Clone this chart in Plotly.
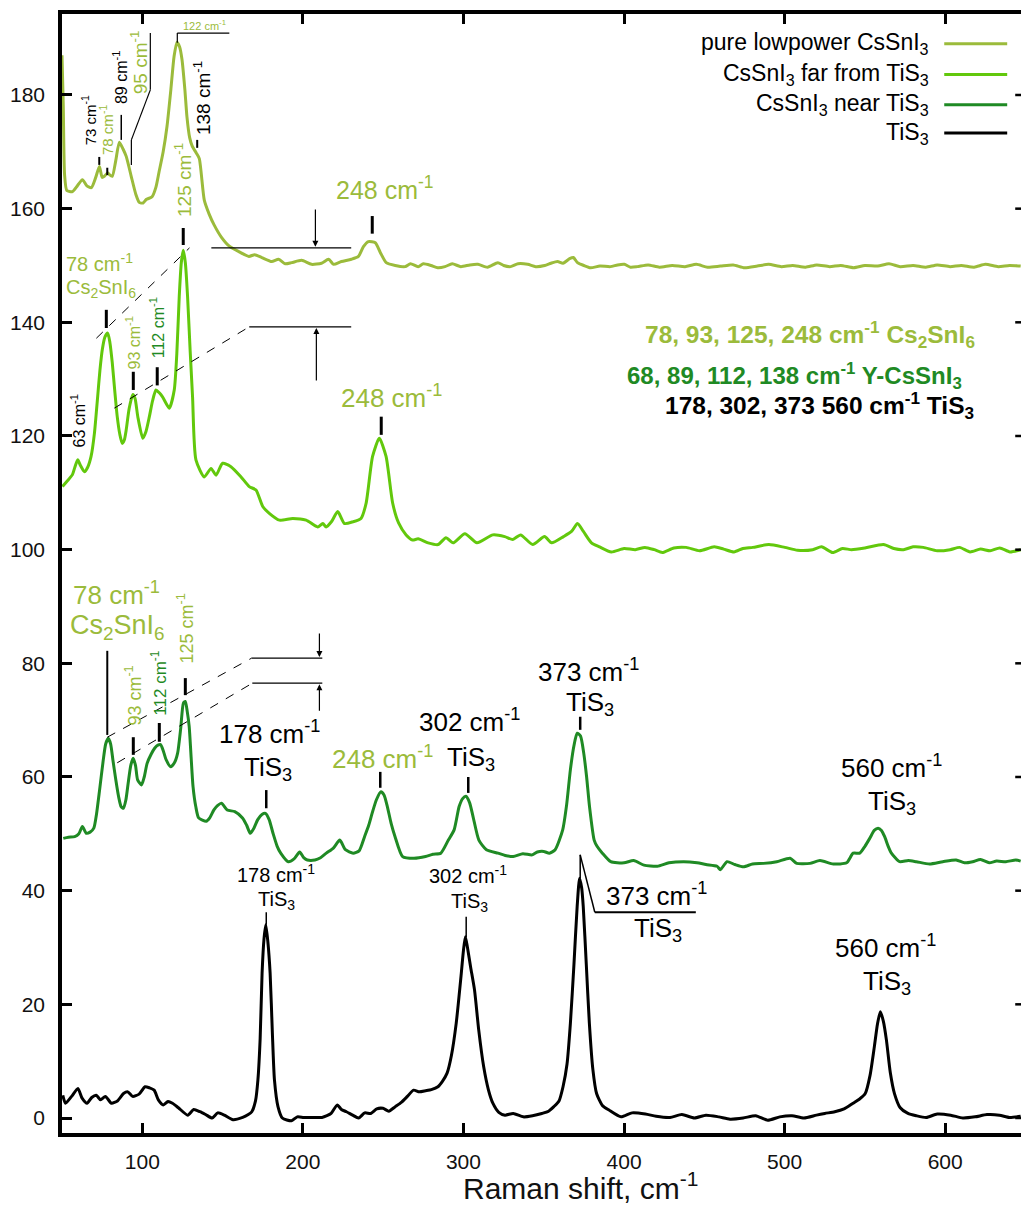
import plotly.graph_objects as go

# ---------------- data ----------------
pure_x = [50.0, 50.8, 51.6, 53.0, 56.5, 59.5, 62.7, 65.5, 68.3, 71.0, 73.3, 75.0, 76.4, 78.5, 79.5, 81.3,
          83.5, 85.7, 88.0, 90.0, 93.1, 96.0, 98.1, 100.5, 102.4, 106.1, 108.5, 110.4, 113.0, 115.4, 117.8,
          119.8, 121.6, 123.2, 124.7, 126.5, 127.8, 129.5, 131.1, 133.6, 135.5, 138.6, 141.7, 144.8, 149.2,
          154.2, 160.4, 166.4, 170.0, 174.4, 180.6, 184.9, 189.0, 193.0, 199.2, 205.4, 211.6, 216.0, 219.1,
          224.0, 230.2, 234.6, 237.7, 240.8, 245.1, 248.2, 251.9, 257.5, 263.7, 267.0, 271.8, 275.0, 279.8,
          284.0, 288.5, 293.0, 298.4, 304.0, 309.0, 315.0, 321.4, 325.0, 329.4, 334.0, 340.0, 345.0, 350.6,
          354.5, 358.6, 362.0, 366.1, 368.5, 371.0, 375.0, 379.1, 385.0, 391.5, 396.0, 400.2, 404.0, 408.3,
          415.0, 422.0, 430.0, 438.0, 445.0, 452.0, 460.0, 468.0, 475.0, 483.0, 490.0, 498.0, 505.0, 513.0,
          520.0, 528.0, 535.0, 543.0, 550.0, 558.0, 565.0, 572.0, 580.0, 588.0, 595.0, 603.0, 610.0, 618.0,
          625.0, 633.0, 640.0, 647.0]
pure_y = [187.0, 178.0, 166.0, 163.2, 163.0, 164.0, 165.1, 164.0, 163.7, 165.5, 167.4, 165.5, 165.7, 166.3, 166.0, 165.7,
          168.5, 171.7, 170.5, 169.2, 165.7, 162.5, 161.1, 161.0, 161.6, 162.1, 163.8, 166.4, 170.0, 174.5, 181.0,
          186.8, 189.3, 188.5, 186.3, 181.0, 176.2, 172.5, 171.0, 169.8, 168.8, 161.5, 159.0, 157.1, 155.0,
          153.4, 152.4, 151.6, 151.9, 151.4, 150.7, 151.1, 150.3, 150.5, 150.9, 150.2, 150.4, 151.1, 150.2,
          150.7, 151.1, 151.6, 153.3, 154.2, 154.0, 152.3, 150.5, 150.0, 149.8, 150.3, 149.8, 150.3, 150.0,
          149.6, 149.8, 150.3, 149.8, 150.1, 150.2, 149.7, 150.5, 150.0, 149.8, 150.3, 150.2, 149.8, 150.0,
          150.4, 150.7, 150.4, 151.2, 151.4, 150.5, 150.0, 149.6, 149.9, 149.8, 150.1, 150.2, 149.7, 149.8,
          150.1, 149.7, 150.0, 149.8, 150.2, 149.7, 149.9, 150.1, 149.6, 149.9, 150.2, 149.8, 150.0, 149.7,
          150.1, 149.8, 150.0, 149.6, 150.0, 149.9, 150.3, 149.8, 150.0, 149.7, 150.1, 149.8, 150.0, 149.7,
          150.2, 149.8, 150.0, 149.9]

far_x = [50.3, 53.0, 56.5, 58.0, 59.8, 61.5, 64.0, 66.0, 68.1, 70.2, 72.2, 73.6, 75.1, 76.7, 78.5, 79.8,
         81.3, 82.9, 84.4, 86.0, 87.5, 88.8, 90.0, 91.8, 94.1, 95.5, 97.2, 100.3, 102.3, 104.4, 106.4,
         108.5, 110.6, 112.6, 116.8, 119.9, 121.5, 123.0, 124.3, 125.5, 126.8, 128.2, 129.8, 131.3, 133.4,
         138.6, 142.8, 145.9, 150.0, 155.2, 161.5, 166.6, 170.8, 175.0, 179.1, 185.4, 193.7, 202.0, 209.2,
         212.4, 214.5, 218.0, 221.7, 225.9, 231.1, 236.2, 239.4, 243.4, 247.6, 251.8, 255.9, 259.6, 264.3,
         268.3, 271.8, 278.0, 284.2, 289.1, 293.5, 300.9, 308.4, 318.3, 325.7, 330.7, 335.6, 343.1, 350.5,
         354.9, 362.3, 367.3, 371.0, 374.7, 379.7, 384.7, 392.1, 400.0, 407.0, 413.0, 418.8, 423.8, 431.0,
         438.7, 447.0, 456.1, 462.0, 468.5, 474.0, 480.2, 490.2, 500.1, 508.0, 517.5, 523.0, 529.9, 536.0,
         541.7, 550.0, 561.6, 568.0, 574.0, 580.0, 586.4, 595.0, 603.1, 609.0, 615.5, 622.0, 628.0, 634.0,
         640.3, 647.0]
far_y = [111.1, 112.0, 113.2, 114.5, 115.8, 114.8, 113.7, 114.5, 116.4, 120.5, 126.9, 131.5, 135.2, 137.4, 138.1, 136.5,
         132.9, 127.8, 123.4, 120.3, 118.7, 119.3, 121.1, 124.8, 127.3, 126.6, 123.4, 119.6, 120.8, 123.4, 126.2,
         128.1, 127.6, 126.9, 124.9, 128.1, 134.5, 144.5, 150.5, 152.7, 150.5, 144.5, 135.0, 126.9, 115.8,
         112.8, 114.3, 113.1, 115.2, 114.6, 112.8, 111.1, 110.5, 107.6, 106.4, 105.2, 105.5, 105.2, 104.0,
         104.6, 104.0, 105.0, 106.7, 104.6, 104.9, 105.5, 108.2, 116.4, 119.6, 116.4, 108.2, 104.7, 102.6,
         101.7, 101.9, 101.2, 100.9, 102.1, 101.2, 102.8, 101.2, 102.6, 102.3, 101.8, 102.6, 100.9, 102.3,
         101.2, 102.3, 103.2, 104.6, 103.2, 101.2, 100.5, 99.6, 100.2, 100.0, 100.4, 100.0, 99.5, 100.3,
         100.4, 99.8, 100.5, 100.1, 99.6, 100.2, 100.4, 100.9, 100.4, 99.9, 100.0, 100.5, 99.5, 100.2,
         100.0, 100.3, 100.9, 100.2, 100.0, 100.5, 100.4, 99.8, 100.0, 100.4, 99.6, 100.1, 99.8, 100.3,
         99.6, 100.0]

near_x = [50.8, 54.0, 57.9, 60.5, 62.7, 65.1, 67.5, 69.8, 71.5, 73.4, 75.7, 77.2, 78.8, 80.3, 81.7, 83.5,
          85.2, 86.8, 88.3, 89.8, 91.2, 92.8, 94.3, 95.8, 97.1, 99.5, 101.2, 103.0, 105.5, 107.8, 109.7,
          111.4, 113.2, 114.9, 117.7, 120.0, 122.0, 123.9, 125.6, 126.8, 128.0, 129.2, 130.4, 131.6, 133.3,
          135.1, 139.8, 142.0, 144.6, 147.0, 149.3, 152.9, 157.6, 162.4, 165.0, 167.2, 169.5, 171.9, 174.5,
          176.7, 179.0, 181.4, 184.0, 186.2, 190.9, 194.5, 198.0, 200.5, 202.8, 207.5, 211.0, 214.6, 219.0,
          223.0, 226.5, 231.3, 235.0, 238.4, 241.0, 243.1, 245.8, 248.6, 250.6, 252.6, 255.0, 257.4, 262.1,
          269.2, 276.4, 281.0, 285.9, 290.6, 294.2, 297.3, 299.5, 301.5, 303.8, 306.0, 309.6, 314.3, 321.5,
          326.0, 331.0, 337.0, 342.8, 346.0, 350.0, 353.5, 357.1, 361.8, 364.2, 366.6, 368.8, 370.8, 372.9,
          374.9, 376.7, 378.5, 381.4, 383.2, 386.5, 391.7, 400.0, 406.0, 412.4, 420.7, 428.0, 437.2, 445.5,
          451.0, 457.9, 460.0, 464.1, 469.0, 474.4, 480.0, 486.9, 495.1, 503.4, 507.5, 515.8, 522.0, 530.3,
          538.6, 542.7, 546.8, 550.0, 553.0, 555.8, 558.2, 560.3, 562.3, 564.5, 566.5, 571.6, 577.0, 582.0,
          590.2, 598.5, 606.8, 612.0, 617.1, 622.0, 627.4, 632.0, 637.8, 644.0, 647.0]
near_y = [49.2, 49.4, 49.5, 50.0, 51.3, 50.1, 50.3, 51.0, 53.5, 57.7, 63.0, 65.8, 66.8, 65.8, 63.0, 59.5,
          56.6, 54.8, 54.5, 56.0, 58.9, 62.0, 63.3, 62.0, 59.5, 58.6, 60.0, 62.4, 64.0, 65.1, 65.6,
          65.7, 64.5, 63.0, 61.8, 62.5, 64.2, 68.5, 73.0, 73.3, 71.5, 68.9, 63.5, 58.3, 54.8,
          52.8, 52.2, 52.8, 54.2, 55.0, 55.4, 54.2, 53.9, 52.8, 51.5, 50.1, 51.0, 52.5, 53.4,
          53.6, 52.5, 50.1, 47.8, 46.6, 45.1, 45.6, 46.8, 45.8, 45.4, 45.4, 45.8, 46.6, 47.5,
          48.9, 47.2, 46.6, 47.0, 49.5, 51.5, 53.6, 56.0, 57.4, 56.8, 54.8, 51.8, 49.5, 46.0,
          45.7, 46.0, 46.4, 46.6, 48.9, 50.7, 54.8, 56.2, 56.6, 55.5, 53.0, 48.9, 47.2, 46.6,
          46.2, 46.0, 46.5, 46.3, 46.8, 46.9, 46.6, 47.2, 50.7, 55.0, 61.3, 65.5, 67.7, 67.2,
          64.2, 60.0, 54.8, 48.9, 47.8, 46.6, 45.1, 44.9, 45.3, 44.5, 44.3, 44.9, 45.1, 44.9,
          44.6, 44.3, 43.7, 45.1, 44.6, 44.2, 44.7, 44.8, 45.1, 45.7, 44.8, 44.8, 45.3, 44.7,
          44.9, 46.6, 46.6, 47.8, 49.2, 50.6, 51.0, 50.6, 49.5, 47.8, 46.6, 45.1, 45.3, 45.1,
          44.7, 45.1, 45.4, 44.9, 45.1, 45.5, 44.9, 45.2, 45.1, 45.4, 45.2]

tis3_x = [50.5, 52.2, 56.0, 59.9, 62.5, 65.6, 68.5, 71.3, 74.0, 77.0, 80.8, 84.5, 88.3, 91.0, 94.0, 98.0,
          101.7, 104.5, 107.4, 110.0, 113.1, 116.0, 118.8, 122.5, 128.3, 132.0, 135.9, 139.5, 143.5, 147.0,
          151.1, 156.5, 162.5, 166.0, 168.2, 170.5, 172.0, 173.4, 174.6, 175.8, 176.9, 178.2, 179.6, 181.0,
          182.3, 184.5, 187.2, 192.9, 196.5, 200.5, 206.0, 211.9, 215.0, 217.6, 221.4, 224.0, 227.1, 231.0,
          234.7, 238.5, 242.3, 246.0, 249.9, 253.5, 257.6, 261.5, 265.1, 268.9, 272.5, 276.5, 280.0, 284.1,
          287.0, 289.8, 292.5, 295.5, 298.5, 300.0, 301.2, 302.5, 304.5, 306.9, 309.5, 312.6, 315.5, 318.3,
          322.0, 325.9, 331.0, 337.3, 343.0, 348.8, 353.0, 356.3, 359.5, 362.0, 364.5, 366.6, 368.8, 370.8,
          372.3, 373.6, 374.6, 376.5, 378.4, 380.6, 382.9, 386.5, 390.6, 398.1, 405.0, 413.3, 420.0, 428.6,
          436.0, 443.8, 451.0, 459.0, 466.0, 474.2, 482.0, 489.5, 497.0, 504.6, 512.0, 519.8, 525.0, 531.2,
          537.0, 542.6, 546.5, 550.2, 553.2, 555.9, 557.8, 559.6, 561.5, 563.4, 565.8, 568.4, 572.0, 576.8,
          582.0, 588.2, 595.0, 603.4, 611.0, 618.6, 626.0, 633.8, 640.0, 647.0]
tis3_y = [4.0, 2.6, 3.8, 5.2, 3.5, 2.6, 3.6, 4.0, 3.2, 3.8, 2.6, 3.0, 4.3, 4.6, 3.8, 4.2,
          5.5, 5.3, 4.9, 3.2, 2.3, 2.9, 2.6, 1.8, 0.5, 1.5, 1.1, 0.6, 0.0, 0.9,
          0.5, -0.3, 0.1, 0.6, 1.1, 3.0, 6.7, 14.0, 25.5, 31.5, 34.0, 31.0, 25.5, 15.0,
          6.7, 2.0, 0.0, -0.5, 0.2, 0.1, 0.1, 0.1, 0.4, 0.8, 2.3, 1.5, 1.1, 0.5,
          0.0, 0.9, 0.8, 1.6, 1.7, 1.2, 2.0, 2.8, 3.8, 4.9, 4.6, 4.8, 5.0, 5.5,
          6.5, 7.9, 11.0, 16.7, 25.0, 29.5, 31.9, 30.0, 26.5, 22.5, 15.5, 9.0, 5.0, 2.6,
          1.0, 0.5, 0.8, 0.2, 0.4, 0.8, 1.2, 2.0, 3.0, 5.5, 9.5, 16.7, 27.0, 37.2,
          42.2, 40.5, 37.2, 27.0, 16.7, 8.5, 4.3, 2.2, 1.4, 0.2, 0.9, 0.7, 0.3, 0.1,
          0.6, 0.0, 0.5, 0.2, -0.2, 0.0, 0.4, -0.4, 0.2, 0.4, 0.0, 0.5, 0.8, 1.1,
          1.6, 2.6, 3.3, 4.3, 7.5, 12.6, 16.5, 18.7, 17.0, 13.7, 8.0, 4.3, 1.8, 0.8,
          0.4, 0.1, 0.7, 0.5, 0.0, 0.2, 0.6, 0.5, 0.1, 0.3]

series_names = ["pure lowpower CsSnI<sub>3</sub>", "CsSnI<sub>3</sub> far from TiS<sub>3</sub>",
                "CsSnI<sub>3</sub> near TiS<sub>3</sub>", "TiS<sub>3</sub>"]
x_ticks = [100, 200, 300, 400, 500, 600]
y_ticks = [0, 20, 40, 60, 80, 100, 120, 140, 160, 180]

OLIVE = "#9BBB3B"
BRIGHT = "#62C80C"
DARK = "#1F8A24"
BLACK = "#000000"
FONT = "Liberation Sans, Arial, sans-serif"

fig = go.Figure()
for xs, ys, col in [(pure_x, pure_y, OLIVE), (far_x, far_y, BRIGHT), (near_x, near_y, DARK), (tis3_x, tis3_y, BLACK)]:
    fig.add_trace(go.Scatter(x=xs, y=ys, mode="lines", showlegend=False,
                             line=dict(color=col, width=3, shape="spline", smoothing=0.6)))


def seg(x0, y0, x1, y1, w=1.2, dash=None, color=BLACK):
    fig.add_shape(type="line", xref="x", yref="y", x0=x0, y0=y0, x1=x1, y1=y1,
                  line=dict(color=color, width=w, dash=dash))


def txt(x, y, s, size, color=BLACK, angle=0, xanchor="center", bold=False):
    if bold:
        s = "<b>" + s + "</b>"
    fig.add_annotation(x=x, y=y, xref="x", yref="y", text=s, showarrow=False, textangle=angle,
                       xanchor=xanchor, yanchor="middle", font=dict(family=FONT, size=size, color=color))


def arrow(x, y_tail, y_head):
    fig.add_annotation(x=x, y=y_head, ax=x, ay=y_tail, xref="x", yref="y", axref="x", ayref="y",
                       text="", showarrow=True, arrowhead=2, arrowsize=1, arrowwidth=1.2, arrowcolor=BLACK)


CM = " cm<sup>-1</sup>"

# ---- top spectrum labels ----
txt(67.0, 175.6, "73" + CM, 15, BLACK, -90)
seg(73.2, 167.7, 73.2, 169.1, 2)
txt(77.6, 173.9, "78" + CM, 15, OLIVE, -90)
seg(78.2, 165.9, 78.2, 167.2, 2)
txt(86.3, 183.2, "89" + CM, 16, BLACK, -90)
seg(86.9, 172.1, 86.9, 176.5, 1.5)
txt(98.1, 185.8, "95" + CM, 19, OLIVE, -90)
seg(105.0, 190.9, 105.0, 180.9)
seg(105.0, 180.9, 93.2, 172.1)
seg(93.2, 172.1, 93.2, 167.7)
txt(138.6, 192.4, "122" + CM, 11, OLIVE)
seg(121.8, 189.2, 121.8, 190.9)
seg(121.8, 190.9, 154.2, 190.9)
txt(137.3, 179.5, "138" + CM, 19, BLACK, -90)
seg(134.2, 170.7, 134.2, 172.1, 2)
txt(124.9, 165.1, "125" + CM, 19, OLIVE, -90)
seg(125.5, 153.6, 125.5, 156.6, 3)
txt(251.3, 163.6, "248" + CM, 25, OLIVE)
seg(243.2, 155.6, 243.2, 158.7, 3)
seg(143.0, 153.1, 230.1, 153.1)
arrow(207.8, 160.1, 153.3)
seg(166.6, 139.2, 230.1, 139.2)
arrow(208.4, 129.5, 139.0)
seg(71.4, 137.2, 129.4, 153.1, 1, "dash")
seg(82.6, 124.9, 165.4, 139.0, 1, "dash")

# ---- far spectrum labels ----
txt(73.3, 150.6, "78" + CM, 20, OLIVE)
txt(74.5, 146.0, "Cs<sub>2</sub>SnI<sub>6</sub>", 20, OLIVE)
seg(77.6, 139.0, 77.6, 142.2, 3)
txt(94.4, 136.5, "93" + CM, 16, OLIVE, -90)
seg(94.4, 128.1, 94.4, 131.3, 3)
txt(109.3, 139.0, "112" + CM, 16, DARK, -90)
seg(109.3, 128.9, 109.3, 132.1, 3)
txt(60.2, 122.8, "63" + CM, 16, BLACK, -90)
txt(255.0, 126.9, "248" + CM, 26, OLIVE)
seg(248.8, 120.2, 248.8, 123.4, 3)

# ---- right text block ----
txt(620.0, 137.9, "78, 93, 125, 248" + CM + " Cs<sub>2</sub>SnI<sub>6</sub>", 24.5, OLIVE, 0, "right", True)
txt(611.9, 130.6, "68, 89, 112, 138" + CM + " Y-CsSnI<sub>3</sub>", 24, DARK, 0, "right", True)
txt(619.4, 125.3, "178, 302, 373 560" + CM + " TiS<sub>3</sub>", 24.5, BLACK, 0, "right", True)

# ---- near spectrum labels ----
txt(83.9, 92.2, "78" + CM, 26, OLIVE)
txt(84.5, 86.4, "Cs<sub>2</sub>SnI<sub>6</sub>", 27, OLIVE)
seg(78.2, 67.4, 78.2, 82.2, 2)
txt(94.5, 74.4, "93" + CM, 18, OLIVE, -90)
seg(94.4, 63.9, 94.4, 67.0, 3)
txt(110.7, 76.5, "112" + CM, 17, DARK, -90)
seg(110.6, 66.2, 110.6, 69.5, 3)
txt(126.9, 86.2, "125" + CM, 18, OLIVE, -90)
seg(126.8, 74.4, 126.8, 77.4, 3)
seg(168.0, 80.9, 212.1, 80.9)
arrow(210.3, 85.5, 81.1)
seg(168.5, 76.5, 212.1, 76.5)
arrow(210.3, 71.4, 76.3)
seg(78.2, 67.0, 168.0, 80.9, 1, "dash")
seg(84.4, 62.5, 168.5, 76.5, 1, "dash")
txt(179.1, 67.9, "178" + CM, 26)
txt(178.5, 61.5, "TiS<sub>3</sub>", 26)
seg(177.2, 54.5, 177.2, 57.7, 2.5)
txt(249.4, 63.5, "248" + CM, 26, OLIVE)
seg(248.2, 58.1, 248.2, 60.9, 2.5)
txt(303.7, 70.0, "302" + CM, 26)
txt(305.0, 63.3, "TiS<sub>3</sub>", 26)
seg(303.0, 57.2, 303.0, 60.0, 2.5)
txt(377.8, 78.8, "373" + CM, 26)
txt(379.0, 72.9, "TiS<sub>3</sub>", 26)
seg(372.7, 68.3, 372.7, 70.6, 2.5)
txt(566.4, 61.8, "560" + CM, 26)
txt(567.0, 55.6, "TiS<sub>3</sub>", 26)

# ---- TiS3 spectrum labels ----
txt(183.4, 43.1, "178" + CM, 20)
txt(183.4, 38.2, "TiS<sub>3</sub>", 20)
seg(177.2, 34.0, 177.2, 36.2, 1.5)
txt(303.0, 42.8, "302" + CM, 20)
txt(303.6, 37.9, "TiS<sub>3</sub>", 20)
seg(301.7, 31.8, 301.7, 35.4, 1.5)
seg(372.7, 42.2, 372.7, 46.3, 1.5)
seg(372.7, 46.3, 381.8, 36.2, 1.5)
seg(381.8, 36.2, 444.7, 36.2, 2)
txt(420.1, 39.4, "373" + CM, 26)
txt(421.3, 33.1, "TiS<sub>3</sub>", 26)
txt(562.7, 30.1, "560" + CM, 26)
txt(563.9, 23.8, "TiS<sub>3</sub>", 26)

# ---- legend (text left of line) ----
leg_y = [189.0, 183.6, 178.3, 173.3]
for name, col, yy in zip(series_names, [OLIVE, BRIGHT, DARK, BLACK], leg_y):
    txt(591.3, yy, name, 23, BLACK, 0, "right")
    seg(599.4, yy, 638.6, yy, 3, None, col)

# ---- right-edge tick stubs ----
for yt in y_ticks:
    seg(643.6, yt, 647.2, yt, 2.5)

# ---- x-axis title (paper coords so it is drawn below the plot area) ----
fig.add_annotation(x=0.5405, y=-0.047, xref="paper", yref="paper", showarrow=False,
                   text="Raman shift, cm<sup>-1</sup>", xanchor="center", yanchor="middle",
                   font=dict(family=FONT, size=30, color="#111111"))

fig.update_layout(
    width=1021, height=1207,
    margin=dict(l=62, r=0, t=14, b=74),
    paper_bgcolor="white", plot_bgcolor="white",
    showlegend=False,
    font=dict(family=FONT, color="#111111"),
)
fig.update_xaxes(range=[50, 647.2], tickvals=x_ticks, ticks="inside", ticklen=10, tickwidth=2.5,
                 tickcolor=BLACK, showline=True, linewidth=3.5, linecolor=BLACK, mirror="ticks",
                 showgrid=False, zeroline=False, tickfont=dict(family=FONT, size=21, color="#111111"),
                 ticklabelstandoff=7)
fig.update_yaxes(range=[-2.64, 194.25], tickvals=y_ticks, ticks="inside", ticklen=10, tickwidth=2.5,
                 tickcolor=BLACK, showline=True, linewidth=3.5, linecolor=BLACK, mirror=False,
                 showgrid=False, zeroline=False, tickfont=dict(family=FONT, size=21, color="#111111"),
                 ticklabelstandoff=9)

fig.write_html("out.html")
